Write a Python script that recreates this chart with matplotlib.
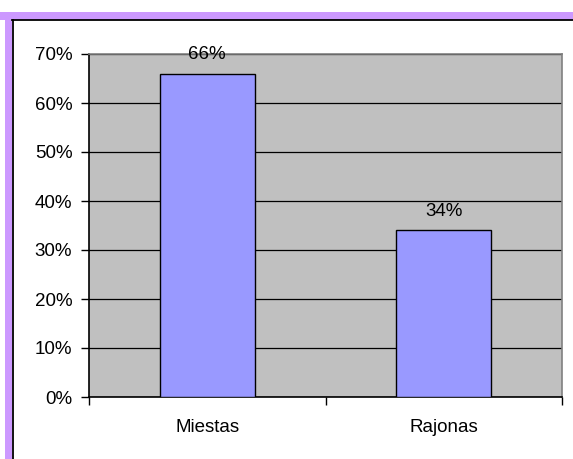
import matplotlib.pyplot as plt
from matplotlib.patches import Rectangle
from matplotlib.lines import Line2D

categories = ['Miestas', 'Rajonas']
shares = [66, 34]
y_ticks = [0, 10, 20, 30, 40, 50, 60, 70]

bar_color = '#9999FF'
plot_bg = '#C0C0C0'
purple = '#CC99FF'

plt.rcParams['font.family'] = 'Liberation Sans'

W, H = 573, 459
fig = plt.figure(figsize=(W / 100, H / 100), dpi=100)
fig.patch.set_facecolor('white')

# purple frame (top and left visible only) with black inner line
fig.patches.append(Rectangle((0, 1 - 20 / H), 1, 8 / H, transform=fig.transFigure,
                             facecolor=purple, edgecolor='none'))
fig.patches.append(Rectangle((5 / W, 0), 7 / W, 1 - 12 / H, transform=fig.transFigure,
                             facecolor=purple, edgecolor='none'))
fig.lines.append(Line2D([12 / W, 1], [1 - 20 / H, 1 - 20 / H], transform=fig.transFigure,
                        color='black', lw=1.3))
fig.lines.append(Line2D([12.5 / W, 12.5 / W], [0, 1 - 20 / H], transform=fig.transFigure,
                        color='black', lw=1.3))

ax = fig.add_axes([89 / W, 62 / H, (562 - 89) / W, (397 - 54) / H])
ax.set_facecolor(plot_bg)

x = list(range(len(categories)))
ax.bar(x, shares, width=0.4, color=bar_color, edgecolor='black', linewidth=1, zorder=3)

for xi, v in zip(x, shares):
    ax.text(xi, v + 2.1, f'{v}%', ha='center', va='bottom', fontsize=13.5, zorder=4,
            clip_on=False)

ax.set_xlim(-0.5, len(categories) - 0.5)
ax.set_ylim(0, 70)
ax.set_yticks(y_ticks)
ax.set_yticklabels([f'{t}%' for t in y_ticks], fontsize=13.5)
ax.yaxis.grid(True, color='black', linewidth=0.9, zorder=0)
ax.set_axisbelow(True)

ax.set_xticks(x)
ax.set_xticklabels(categories, fontsize=13.5)
ax.tick_params(axis='x', length=0, pad=16)
ax.set_xticks([-0.5, 0.5, 1.5], minor=True)
ax.tick_params(axis='x', which='minor', length=6, width=1, color='black')
ax.tick_params(axis='y', length=6, width=1, color='black', pad=6)

ax.spines['top'].set_color('#808080')
ax.spines['right'].set_color('#808080')
ax.spines['left'].set_color('black')
ax.spines['bottom'].set_color('black')
for s in ax.spines.values():
    s.set_linewidth(1.2)

fig.savefig('out.png', dpi=100)
